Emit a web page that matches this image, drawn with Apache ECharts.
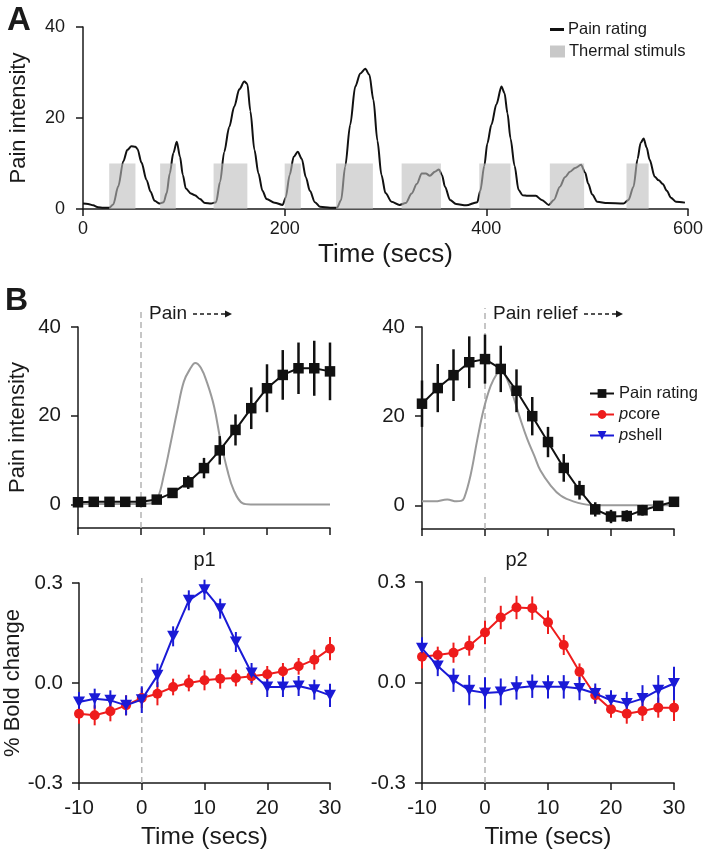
<!DOCTYPE html>
<html><head><meta charset="utf-8">
<script src="https://cdn.jsdelivr.net/npm/echarts@6/dist/echarts.min.js"></script>
<style>html,body{margin:0;padding:0;background:#fff}#c{width:706px;height:853px}</style>
</head><body><div id="c"></div>
<script>
// ---------- Panel A data ----------
const aTime = [0,5,10,15,20,26,30,35,40,44,48,52,54,58,63,67,71,76,80,83,86,89.6,93,96.2,99,102,107,111,116,121,127,132,136,140,145,150,155,160,163,166,170,174,178,182,190,198,201,205,209,213,217,221,225,230,235,245,252,256,260,265,270,275,280,284,288,292,296,300,306,314,320,326,331,336,340,344,349,353,356,359,364,370,380,391,394,398,401,405,410,415,418,421,424,428,432,436,441,449,455,462,467,473,478,483,488,494,498,501,505,510,520,536,541,546,550,553,556,559,562,567,571,575,579,583,588,597];
const aPain = [1.2,1.1,0.8,0.4,0.3,0.3,1.0,5.0,10.5,13.0,13.8,13.7,13.2,10.2,6.4,3.8,1.8,1.2,1.5,3.5,7.8,12.3,14.8,11.5,7.5,4.5,3.4,3.0,2.2,1.3,1.2,1.5,6.0,12.5,18.0,22.5,26.3,28.0,27.5,21.5,13.0,7.8,4.0,2.2,1.4,0.9,2.5,7.5,11.5,12.6,11.0,7.0,4.0,1.5,0.5,0.3,0.3,2.0,9.3,18.5,26.9,29.8,30.8,29.5,24.0,15.0,7.5,3.5,1.6,0.9,1.3,3.4,5.5,7.8,7.8,7.3,8.2,8.7,7.5,4.9,2.0,1.1,0.8,1.5,4.0,9.5,14.4,18.5,23.0,26.9,25.5,21.0,15.5,9.5,4.2,3.0,2.9,2.9,2.0,0.9,2.0,4.9,7.0,8.2,9.0,9.7,8.0,5.6,3.2,1.6,1.3,1.2,2.0,4.9,11.0,14.5,15.5,13.5,10.8,7.1,6.3,5.5,4.0,2.5,1.6,1.4];
const stimStart = [26,76.5,129.5,200,251,316,393,463,539];
const stimEnd   = [52,92,163,216,287.5,355,424,497,561];
const stimLevel = 10;

// ---------- Panel B data ----------
const tB = [-10,-7.5,-5,-2.5,0,2.5,5,7.5,10,12.5,15,17.5,20,22.5,25,27.5,30];
const p1Rating    = [0.5,0.6,0.6,0.6,0.6,1.1,2.6,5.0,8.2,12.2,16.8,21.7,26.2,29.2,30.7,30.7,30.0];
const p1RatingErr = [0.5,0.5,0.5,0.5,0.6,0.8,1.1,1.5,2.3,3.2,3.5,4.7,5.4,5.6,5.8,6.2,6.5];
const p1StimT = [-10,-5,0,1.5,2.6,3.7,4.7,5.8,6.8,7.9,8.6,9.5,10.5,11.6,12.6,13.7,14.7,16.1,17.4,20,25,30];
const p1StimV = [0.1,0.1,0.1,0.2,1.3,7.1,13.8,21.4,27.7,30.8,31.9,30.8,27.4,22.1,14.6,7.8,3.3,0.3,0,0,0,0];
const p2Rating    = [22.8,26.3,29.2,32.1,32.8,30.6,25.7,20.0,14.2,8.4,3.4,-0.9,-2.5,-2.4,-1.1,-0.1,0.8];
const p2RatingErr = [5.2,5.4,5.8,5.8,5.5,5.2,4.8,4.3,3.4,3.1,2.1,1.6,1.5,1.3,1.2,1.0,1.0];
const p2StimT = [-10,-8,-6,-4.5,-3.8,-3.3,-2.3,-1.2,-0.2,0.9,2.0,2.5,3.5,4.6,5.6,6.7,7.8,8.8,10.4,12.0,14.0,16.7,20,25,30];
const p2StimV = [0.9,0.9,1.3,0.9,1.0,1.7,6.7,14.9,21.6,26.8,29.8,30.4,28.3,23.9,19.4,14.9,11.2,7.8,4.5,2.2,0.9,0.1,0,0,0];

const p1Shell    = [-0.057,-0.047,-0.052,-0.067,-0.050,0.023,0.140,0.248,0.280,0.223,0.123,0.030,-0.012,-0.012,-0.009,-0.020,-0.037];
const p1ShellErr = [0.03,0.03,0.03,0.03,0.04,0.035,0.03,0.03,0.03,0.03,0.03,0.03,0.03,0.03,0.03,0.03,0.035];
const p1Core     = [-0.092,-0.097,-0.085,-0.067,-0.045,-0.032,-0.012,0.0,0.008,0.013,0.015,0.020,0.026,0.035,0.050,0.070,0.103];
const p1CoreErr  = [0.03,0.03,0.03,0.03,0.03,0.035,0.025,0.025,0.03,0.03,0.025,0.025,0.025,0.025,0.025,0.03,0.035];
const p2Core     = [0.077,0.082,0.089,0.110,0.149,0.194,0.224,0.222,0.180,0.112,0.032,-0.038,-0.080,-0.093,-0.085,-0.075,-0.075];
const p2CoreErr  = [0.035,0.025,0.03,0.03,0.035,0.035,0.035,0.035,0.035,0.03,0.025,0.025,0.025,0.03,0.03,0.03,0.04];
const p2Shell    = [0.102,0.049,0.007,-0.023,-0.031,-0.028,-0.016,-0.011,-0.013,-0.013,-0.018,-0.033,-0.053,-0.063,-0.048,-0.023,-0.003];
const p2ShellErr = [0.033,0.03,0.035,0.045,0.047,0.04,0.035,0.035,0.035,0.035,0.035,0.03,0.03,0.035,0.04,0.045,0.05];

const bXTicks = [-10,0,10,20,30];
const bTopYTicks = [0,20,40];
const bTopYMin = -5.3, bTopYMax = 40;
const bBotYTicks = [-0.3,0,0.3];
const onsetLabels = ['Pain','Pain relief'];
const panelTitles = ['p1','p2'];
const panelTitleX = [10,5];

// ---------- rendering ----------
const FF = 'Liberation Sans, Arial, Helvetica, sans-serif';
const INK = '#1a1a1a';
const RED = '#ee1c1c', BLUE = '#1a1ad6', GRAYLINE = '#9a9a9a';
const triDown = 'path://M0,0 L20,0 L10,17 Z';

function axisX(grid, opts){
  return Object.assign({
    type:'value', gridIndex:grid, min:-10, max:30,
    axisLine:{show:true,onZero:false,lineStyle:{color:INK,width:1.5}},
    axisTick:{show:true,length:7,customValues:bXTicks,lineStyle:{color:INK,width:1.5}},
    axisLabel:{show:false},
    splitLine:{show:false}
  }, opts||{});
}
function axisY(grid, opts){
  return Object.assign({
    type:'value', gridIndex:grid,
    axisLine:{show:true,onZero:false,lineStyle:{color:INK,width:1.5}},
    axisTick:{show:true,length:7,lineStyle:{color:INK,width:1.5}},
    splitLine:{show:false}
  }, opts||{});
}
const bigName = {fontSize:24.5,color:INK,fontFamily:FF};
const yName = {fontSize:22,color:INK,fontFamily:FF};
const tickLbl = (sz,m,vals,fmt)=>({show:true,fontSize:sz,color:INK,fontFamily:FF,margin:m,customValues:vals,formatter:fmt});

function errSeries(xi, vals, errs, color, w, name){
  return {
    type:'custom', name:name, xAxisIndex:xi, yAxisIndex:xi, z:3, silent:true,
    data: tB.map((t,i)=>[t, vals[i], errs[i]]),
    renderItem:(p,api)=>{
      const a = api.coord([api.value(0), api.value(1)-api.value(2)]);
      const b = api.coord([api.value(0), api.value(1)+api.value(2)]);
      return {type:'line', shape:{x1:a[0],y1:a[1],x2:b[0],y2:b[1]}, style:{stroke:color,lineWidth:w}};
    }
  };
}
function onsetSeries(xi, yMin, yMax, ext, label, arrowStart, arrowEnd){
  return {
    type:'custom', name:'onset'+xi, xAxisIndex:xi, yAxisIndex:xi, z:1, silent:true, clip:false,
    data:[[0]],
    renderItem:(p,api)=>{
      const lo = api.coord([0, yMin]), hi = api.coord([0, yMax]);
      const x0 = hi[0];
      const kids = [{type:'line', shape:{x1:x0,y1:lo[1],x2:x0,y2:hi[1]-ext}, style:{stroke:'#b4b4b4',lineWidth:1.5,lineDash:[6,4]}}];
      if(label){
        const ty = hi[1]-13;
        kids.push({type:'text', style:{text:label, x:x0+8, y:ty, fill:INK, fontSize:19, fontFamily:FF, verticalAlign:'middle', align:'left'}});
        kids.push({type:'line', shape:{x1:x0+arrowStart,y1:ty,x2:x0+arrowEnd-4,y2:ty}, style:{stroke:INK,lineWidth:1.5,lineDash:[4,3]}});
        kids.push({type:'polygon', shape:{points:[[x0+arrowEnd-7,ty-3.5],[x0+arrowEnd,ty],[x0+arrowEnd-7,ty+3.5]]}, style:{fill:INK}});
      }
      return {type:'group', children:kids};
    }
  };
}

const option = {
  animation:false,
  textStyle:{fontFamily:FF},
  grid:[
    {left:79, top:27, width:609, height:182},
    {left:78, top:327, width:252, height:201},
    {left:422, top:327, width:252, height:202},
    {left:79, top:583, width:251, height:200},
    {left:422, top:582, width:252, height:201}
  ],
  xAxis:[
    {type:'value', gridIndex:0, min:0, max:600, interval:200,
     axisLine:{show:true,onZero:false,lineStyle:{color:INK,width:1.5}},
     axisTick:{show:true,length:7,lineStyle:{color:INK,width:1.5}},
     axisLabel:{fontSize:18,color:INK,fontFamily:FF,margin:11},
     splitLine:{show:false},
     name:'Time (secs)', nameLocation:'middle', nameGap:33, nameTextStyle:{fontSize:26,color:INK,fontFamily:FF}},
    axisX(1), axisX(2),
    axisX(3,{axisLabel:tickLbl(20.5,15,bXTicks), name:'Time (secs)', nameLocation:'middle', nameGap:42, nameTextStyle:bigName}),
    axisX(4,{axisLabel:tickLbl(20.5,15,bXTicks), name:'Time (secs)', nameLocation:'middle', nameGap:42, nameTextStyle:bigName})
  ],
  yAxis:[
    axisY(0,{min:0,max:40,interval:20, axisLabel:{fontSize:18,color:INK,fontFamily:FF,margin:18},
      name:'Pain intensity', nameLocation:'middle', nameGap:53, nameTextStyle:yName}),
    axisY(1,{min:bTopYMin,max:bTopYMax, axisTick:{show:true,length:7,customValues:bTopYTicks,lineStyle:{color:INK,width:1.5}},
      axisLabel:tickLbl(20.5,17,bTopYTicks),
      name:'Pain intensity', nameLocation:'middle', nameGap:49, nameTextStyle:yName}),
    axisY(2,{min:bTopYMin,max:bTopYMax, axisTick:{show:true,length:7,customValues:bTopYTicks,lineStyle:{color:INK,width:1.5}},
      axisLabel:tickLbl(20.5,17,bTopYTicks)}),
    axisY(3,{min:-0.3,max:0.3, axisTick:{show:true,length:7,customValues:bBotYTicks,lineStyle:{color:INK,width:1.5}},
      axisLabel:tickLbl(20.5,16,bBotYTicks,v=>v.toFixed(1)),
      name:'% Bold change', nameLocation:'middle', nameGap:53, nameTextStyle:yName}),
    axisY(4,{min:-0.3,max:0.3, axisTick:{show:true,length:7,customValues:bBotYTicks,lineStyle:{color:INK,width:1.5}},
      axisLabel:tickLbl(20.5,16,bBotYTicks,v=>v.toFixed(1))})
  ],
  legend:[
    {data:['Pain rating'], left:545, top:16, icon:'rect', itemWidth:14, itemHeight:3, itemGap:0,
     textStyle:{fontSize:16.5,color:INK,fontFamily:FF,padding:[0,0,0,-1]}, selectedMode:false},
    {data:['Thermal stimuls'], left:545, top:38, icon:'rect', itemWidth:15, itemHeight:12,
     textStyle:{fontSize:16.5,color:INK,fontFamily:FF,padding:[0,0,0,-1]}, selectedMode:false},
    {data:['rating','pcore','pshell'], orient:'vertical', left:584, top:380, itemWidth:24, itemHeight:11, itemGap:4,
     selectedMode:false,
     formatter:n=>n==='rating'?'Pain rating':(n==='pcore'?'{i|p}core':'{i|p}shell'),
     textStyle:{fontSize:16.5,color:INK,fontFamily:FF,rich:{i:{fontStyle:'italic',fontSize:16.5,fontFamily:FF}}}}
  ],
  graphic:[
    {type:'text', left:7, top:4, style:{text:'A', fontSize:33, fontWeight:'bold', fill:INK, fontFamily:FF}},
    {type:'text', left:5, top:285, style:{text:'B', fontSize:32, fontWeight:'bold', fill:INK, fontFamily:FF}}
  ],
  series:[
    // Panel A
    {type:'line', name:'Pain rating', xAxisIndex:0, yAxisIndex:0, z:2, showSymbol:false, smooth:0.3, smoothMonotone:'x',
     data:aTime.map((t,i)=>[t,aPain[i]]), lineStyle:{color:'#111',width:2}, itemStyle:{color:'#111'}},
    {type:'custom', name:'Thermal stimuls', xAxisIndex:0, yAxisIndex:0, z:4, silent:true,
     itemStyle:{color:'#c8c8c8'},
     data:stimStart.map((s,i)=>[s, stimEnd[i], stimLevel]),
     renderItem:(p,api)=>{
       const a = api.coord([api.value(0), api.value(2)]);
       const b = api.coord([api.value(1), 0]);
       return {type:'rect', shape:{x:a[0], y:a[1], width:b[0]-a[0], height:b[1]-a[1]}, style:{fill:'rgba(188,188,188,0.6)'}};
     }},
    // B1
    onsetSeries(1, bTopYMin, bTopYMax, 19, onsetLabels[0], 52, 91),
    {type:'line', name:'stim1', xAxisIndex:1, yAxisIndex:1, z:2, showSymbol:false, smooth:0.4,
     data:p1StimT.map((t,i)=>[t,p1StimV[i]]), lineStyle:{color:GRAYLINE,width:2}},
    errSeries(1, p1Rating, p1RatingErr, '#111', 2.5, 'e1'),
    {type:'line', name:'rating', xAxisIndex:1, yAxisIndex:1, z:4, symbol:'rect', symbolSize:10.5,
     data:tB.map((t,i)=>[t,p1Rating[i]]), lineStyle:{color:'#111',width:2}, itemStyle:{color:'#111'}},
    // B2
    onsetSeries(2, bTopYMin, bTopYMax, 19, onsetLabels[1], 99, 138),
    {type:'line', name:'stim2', xAxisIndex:2, yAxisIndex:2, z:2, showSymbol:false, smooth:0.4,
     data:p2StimT.map((t,i)=>[t,p2StimV[i]]), lineStyle:{color:GRAYLINE,width:2}},
    errSeries(2, p2Rating, p2RatingErr, '#111', 2.5, 'e2'),
    {type:'line', name:'rating', xAxisIndex:2, yAxisIndex:2, z:4, symbol:'rect', symbolSize:10.5,
     data:tB.map((t,i)=>[t,p2Rating[i]]), lineStyle:{color:'#111',width:2}, itemStyle:{color:'#111'}},
    // B3
    onsetSeries(3, -0.3, 0.3, 5, null),
    errSeries(3, p1Core, p1CoreErr, RED, 2, 'e3'),
    {type:'line', name:'pcore', xAxisIndex:3, yAxisIndex:3, z:4, symbol:'circle', symbolSize:10,
     data:tB.map((t,i)=>[t,p1Core[i]]), lineStyle:{color:RED,width:2}, itemStyle:{color:RED}},
    errSeries(3, p1Shell, p1ShellErr, BLUE, 2, 'e4'),
    {type:'line', name:'pshell', xAxisIndex:3, yAxisIndex:3, z:5, symbol:triDown, symbolSize:[12,11],
     data:tB.map((t,i)=>[t,p1Shell[i]]), lineStyle:{color:BLUE,width:2}, itemStyle:{color:BLUE}},
    // B4
    onsetSeries(4, -0.3, 0.3, 5, null),
    errSeries(4, p2Core, p2CoreErr, RED, 2, 'e5'),
    {type:'line', name:'pcore', xAxisIndex:4, yAxisIndex:4, z:4, symbol:'circle', symbolSize:10,
     data:tB.map((t,i)=>[t,p2Core[i]]), lineStyle:{color:RED,width:2}, itemStyle:{color:RED}},
    errSeries(4, p2Shell, p2ShellErr, BLUE, 2, 'e6'),
    {type:'line', name:'pshell', xAxisIndex:4, yAxisIndex:4, z:5, symbol:triDown, symbolSize:[12,11],
     data:tB.map((t,i)=>[t,p2Shell[i]]), lineStyle:{color:BLUE,width:2}, itemStyle:{color:BLUE}},
    // panel titles p1 / p2 (anchored to data x)
    {type:'custom', name:'titles', xAxisIndex:3, yAxisIndex:3, silent:true, clip:false,
     data:[[panelTitleX[0]]],
     renderItem:(p,api)=>{const c=api.coord([api.value(0),0.3]);
       return {type:'text', style:{text:panelTitles[0], x:c[0], y:c[1]-23, align:'center', verticalAlign:'middle', fontSize:20, fill:INK, fontFamily:FF}};}},
    {type:'custom', name:'titles2', xAxisIndex:4, yAxisIndex:4, silent:true, clip:false,
     data:[[panelTitleX[1]]],
     renderItem:(p,api)=>{const c=api.coord([api.value(0),0.3]);
       return {type:'text', style:{text:panelTitles[1], x:c[0], y:c[1]-22, align:'center', verticalAlign:'middle', fontSize:20, fill:INK, fontFamily:FF}};}}
  ]
};
const chart = echarts.init(document.getElementById('c'), null, {renderer:'canvas'});
chart.setOption(option);
</script>
</body></html>
